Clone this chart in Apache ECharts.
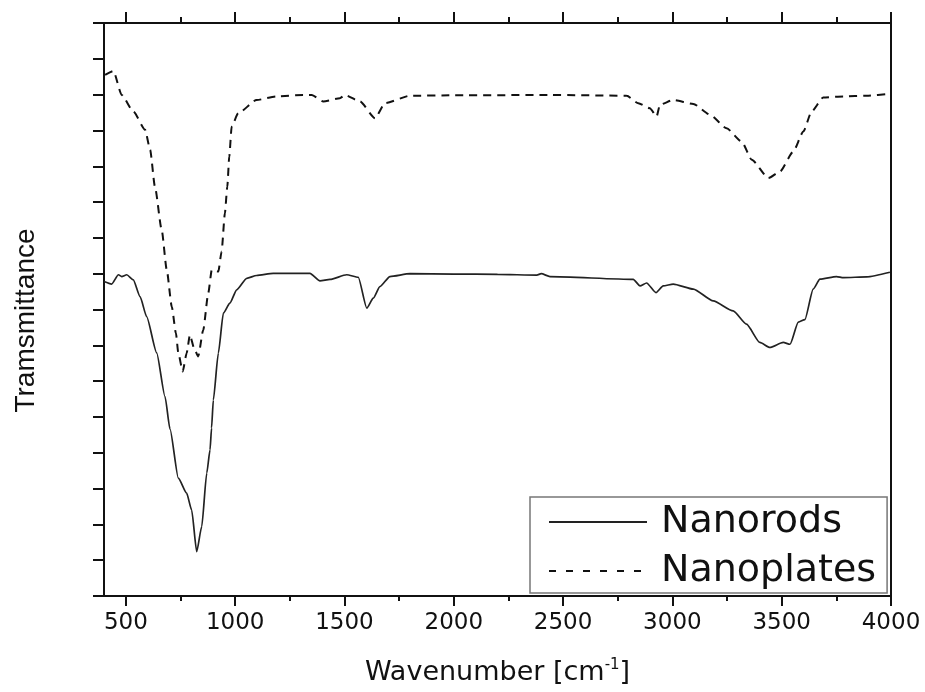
<!DOCTYPE html>
<html>
<head>
<meta charset="utf-8">
<script src="https://cdn.jsdelivr.net/npm/echarts@6/dist/echarts.min.js"></script>
<style>
  html, body { margin: 0; padding: 0; background: #fff; }
  #chart { width: 925px; height: 692px; }
</style>
</head>
<body>
<div id="chart"></div>
<script>
// wavenumber (cm-1) / transmittance (arbitrary units, 0..16 frame)
const rodsWave = [400, 435, 466, 481, 504, 534, 565, 595, 641, 679, 702, 740, 778, 801, 824, 847, 870, 885, 892, 900, 923, 946, 976, 1007, 1053, 1098, 1174, 1342, 1388, 1434, 1510, 1563, 1602, 1632, 1662, 1708, 1800, 2000, 2200, 2380, 2400, 2440, 2821, 2852, 2882, 2925, 2958, 3004, 3096, 3187, 3278, 3339, 3400, 3446, 3507, 3538, 3576, 3606, 3644, 3675, 3751, 3782, 3889, 3995]
const rodsValue = [8.78, 8.71, 8.97, 8.92, 8.97, 8.83, 8.36, 7.80, 6.79, 5.57, 4.66, 3.29, 2.87, 2.40, 1.24, 1.94, 3.43, 4.08, 4.69, 5.47, 6.78, 7.90, 8.18, 8.55, 8.87, 8.95, 9.01, 9.01, 8.80, 8.84, 8.97, 8.90, 8.04, 8.32, 8.64, 8.92, 9.00, 8.99, 8.98, 8.96, 9.00, 8.92, 8.84, 8.66, 8.74, 8.47, 8.66, 8.71, 8.57, 8.24, 7.96, 7.59, 7.08, 6.94, 7.08, 7.03, 7.65, 7.72, 8.57, 8.85, 8.92, 8.89, 8.91, 9.04]

const platesWave = [405, 443, 481, 534, 588, 611, 633, 664, 687, 710, 729, 740, 760, 778, 793, 812, 831, 854, 877, 893, 923, 938, 953, 964, 973, 984, 1014, 1098, 1190, 1312, 1350, 1403, 1479, 1502, 1571, 1640, 1685, 1800, 2000, 2440, 2791, 2844, 2897, 2928, 2943, 3004, 3096, 3172, 3248, 3317, 3363, 3439, 3492, 3553, 3599, 3637, 3690, 3782, 3889, 3995]
const platesValue = [14.55, 14.66, 13.99, 13.53, 13.02, 12.46, 11.43, 10.22, 9.11, 8.08, 7.34, 6.78, 6.27, 6.78, 7.29, 6.92, 6.69, 7.43, 8.46, 9.11, 9.06, 9.62, 10.69, 11.43, 12.27, 13.11, 13.48, 13.85, 13.95, 13.99, 13.99, 13.81, 13.90, 13.99, 13.81, 13.34, 13.76, 13.97, 13.98, 13.99, 13.97, 13.76, 13.62, 13.39, 13.72, 13.85, 13.74, 13.44, 13.06, 12.69, 12.18, 11.67, 11.85, 12.41, 12.97, 13.53, 13.92, 13.95, 13.97, 14.02]

const majorTicks = [500, 1000, 1500, 2000, 2500, 3000, 3500, 4000]
const minorTicks = [750, 1250, 1750, 2250, 2750, 3250, 3750]
const yTicks = [0, 1, 2, 3, 4, 5, 6, 7, 8, 9, 10, 11, 12, 13, 14, 15, 16]

// the source picture is a bit stretched sideways, DejaVu's wider glyphs fit it better
const WIDE = '"DejaVu Sans", sans-serif'
const FONT = '"Liberation Sans", Arial, sans-serif'
const INK = '#111'

const chart = echarts.init(document.getElementById('chart'))

const xBase = {
  type: 'value',
  min: 400,
  max: 4000,
  splitLine: { show: false },
  axisLine: { lineStyle: { color: INK, width: 2 } }
}

chart.setOption({
  animation: false,
  grid: { left: 104, right: 34, top: 23, bottom: 96 },
  legend: {
    orient: 'vertical',
    left: 530,
    top: 497,
    padding: [5, 11, 2, 18],
    itemGap: 9,
    itemWidth: 98,
    itemHeight: 20,
    borderColor: '#777',
    borderWidth: 1.5,
    backgroundColor: '#fff',
    itemStyle: { opacity: 0 },
    textStyle: { fontFamily: WIDE, fontSize: 38, color: INK, lineHeight: 40, padding: [0, 0, 0, 9] },
    data: [
      { name: 'Nanorods', lineStyle: { width: 2 } },
      { name: 'Nanoplates', lineStyle: { width: 2, type: [7, 10] } }
    ]
  },
  xAxis: [
    {
      ...xBase,
      position: 'bottom',
      name: '{a|Wavenumber [cm}{s|-1}{a|]}',
      nameLocation: 'middle',
      nameGap: 62,
      nameTextStyle: {
        rich: {
          a: { fontFamily: WIDE, fontSize: 27, color: INK },
          s: { fontFamily: WIDE, fontSize: 15, color: INK, padding: [0, 0, 14, 0] }
        }
      },
      axisTick: { customValues: majorTicks, length: 10, lineStyle: { color: INK, width: 2 } },
      axisLabel: {
        customValues: majorTicks,
        formatter: v => String(v),
        margin: 16,
        fontFamily: WIDE,
        fontSize: 23,
        color: INK
      }
    },
    {
      ...xBase,
      position: 'bottom',
      axisLine: { show: false },
      axisTick: { customValues: minorTicks, length: 5, lineStyle: { color: INK, width: 2 } },
      axisLabel: { show: false }
    },
    {
      ...xBase,
      position: 'top',
      axisTick: { customValues: majorTicks, length: 11, lineStyle: { color: INK, width: 2 } },
      axisLabel: { show: false }
    },
    {
      ...xBase,
      position: 'top',
      axisLine: { show: false },
      axisTick: { customValues: minorTicks, length: 6, lineStyle: { color: INK, width: 2 } },
      axisLabel: { show: false }
    }
  ],
  yAxis: [
    {
      type: 'value',
      min: 0,
      max: 16,
      position: 'left',
      name: 'Tramsmittance',
      nameLocation: 'middle',
      nameGap: 64,
      nameTextStyle: { fontFamily: FONT, fontSize: 28, color: INK, padding: [0, 22, 0, 0] },
      splitLine: { show: false },
      axisLine: { show: true, lineStyle: { color: INK, width: 2 } },
      axisTick: { customValues: yTicks, length: 11, lineStyle: { color: INK, width: 2 } },
      axisLabel: { show: false }
    },
    {
      type: 'value',
      min: 0,
      max: 16,
      position: 'right',
      splitLine: { show: false },
      axisLine: { show: true, lineStyle: { color: INK, width: 2 } },
      axisTick: { show: false },
      axisLabel: { show: false }
    }
  ],
  series: [
    {
      name: 'Nanorods',
      type: 'line',
      symbol: 'none',
      smooth: 0.2,
      smoothMonotone: 'x',
      data: rodsWave.map((w, i) => [w, rodsValue[i]]),
      lineStyle: { color: '#222', width: 1.7 },
      itemStyle: { color: '#222' }
    },
    {
      name: 'Nanoplates',
      type: 'line',
      symbol: 'none',
      smooth: 0.2,
      smoothMonotone: 'x',
      data: platesWave.map((w, i) => [w, platesValue[i]]),
      lineStyle: { color: '#111', width: 2, type: [8, 6] },
      itemStyle: { color: '#111' }
    }
  ]
})
</script>
</body>
</html>
